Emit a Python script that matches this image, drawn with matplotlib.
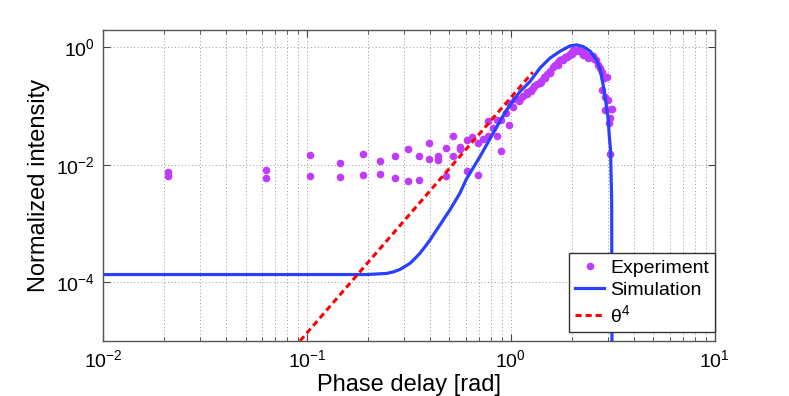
import matplotlib
matplotlib.use('Agg')
import matplotlib.pyplot as plt
from matplotlib.ticker import LogLocator, NullLocator
import numpy as np

plt.rcParams['font.family'] = ['Liberation Sans', 'DejaVu Sans']
plt.rcParams['mathtext.fontset'] = 'custom'
plt.rcParams['mathtext.rm'] = 'Liberation Sans'
plt.rcParams['mathtext.it'] = 'Liberation Sans:italic'

# measured points (phase delay [rad], normalized intensity)
exp_theta = [0.0209, 0.0209, 0.0627, 0.0627, 0.104, 0.104, 0.146, 0.146,
             0.1875, 0.1875, 0.229, 0.229, 0.271, 0.271, 0.313, 0.313,
             0.355, 0.355, 0.397, 0.397, 0.438, 0.438, 0.480, 0.480,
             0.521, 0.521, 0.564, 0.564, 0.607, 0.607, 0.648, 0.689, 0.689,
             0.726, 0.774, 0.774, 0.813, 0.857, 0.857, 0.898, 0.898, 0.942,
             0.984, 0.984, 1.023, 1.05, 1.10, 1.107, 1.15, 1.194, 1.20, 1.25,
             1.25, 1.285, 1.30, 1.35, 1.387, 1.40, 1.40, 1.45, 1.468, 1.50,
             1.553, 1.55, 1.55, 1.611, 1.65, 1.70, 1.70, 1.738, 1.75, 1.80,
             1.80, 1.85, 1.875, 1.90, 1.90, 1.95, 2.00, 2.00, 2.019, 2.05,
             2.08, 2.10, 2.138, 2.16, 2.20, 2.25, 2.261, 2.30, 2.393, 2.45,
             2.50, 2.53, 2.55, 2.60, 2.679, 2.72, 2.786, 2.80, 2.85, 2.889,
             2.889, 2.95, 3.00, 3.04, 3.055, 3.10, 3.14, 3.07]
exp_int = [0.0076, 0.0065, 0.0081, 0.0060, 0.0149, 0.0065, 0.0107, 0.0061,
           0.0151, 0.0068, 0.0116, 0.0070, 0.0139, 0.0060, 0.0187, 0.0053,
           0.0141, 0.0055, 0.0234, 0.0125, 0.0139, 0.0120, 0.0196, 0.0064,
           0.0308, 0.0141, 0.0203, 0.0185, 0.0264, 0.0078, 0.0296, 0.0068, 0.0232,
           0.0274, 0.0545, 0.0302, 0.0414, 0.0302, 0.0566, 0.0171, 0.0566, 0.0751,
           0.0469, 0.111, 0.0973, 0.13, 0.12, 0.1316, 0.15, 0.157, 0.17, 0.18,
           0.19, 0.200, 0.22, 0.24, 0.244, 0.27, 0.255, 0.31, 0.30, 0.35,
           0.38, 0.40, 0.37, 0.467, 0.50, 0.55, 0.50, 0.608, 0.60, 0.64,
           0.61, 0.68, 0.692, 0.72, 0.70, 0.77, 0.82, 0.78, 0.90, 0.86,
           0.85, 0.90, 0.90, 0.87, 0.86, 0.80, 0.739, 0.78, 0.650, 0.70,
           0.72, 0.70, 0.62, 0.60, 0.499, 0.44, 0.38, 0.187, 0.30, 0.144,
           0.0855, 0.31, 0.1265, 0.052, 0.0617, 0.089, 0.0889, 0.0152]

# simulated curve
sim_theta = [0.01, 0.0925, 0.196, 0.246, 0.264, 0.286, 0.302, 0.320, 0.338,
             0.358, 0.378, 0.401, 0.424, 0.449, 0.474, 0.502, 0.531, 0.562,
             0.607, 0.705, 0.818, 0.953, 1.107, 1.239, 1.387, 1.553, 1.738,
             1.946, 2.099, 2.261, 2.44, 2.63, 2.73, 2.835, 2.92, 3.00, 3.03,
             3.08, 3.12, 3.13, 3.14]
sim_int = [1.35e-4, 1.35e-4, 1.35e-4, 1.41e-4, 1.49e-4, 1.65e-4, 1.85e-4,
           2.09e-4, 2.52e-4, 3.1e-4, 3.96e-4, 5.2e-4, 7.0e-4, 9.4e-4, 1.26e-3,
           1.69e-3, 2.34e-3, 3.26e-3, 5.8e-3, 0.01368, 0.0343, 0.0855, 0.175,
           0.259, 0.439, 0.650, 0.848, 1.05, 1.094, 1.024, 0.865, 0.608, 0.439,
           0.228, 0.118, 0.0617, 0.0343, 0.0178, 2.5e-3, 1e-5, 1e-8]

# theta^4 reference line end points
ref_theta = [0.0925, 1.28]
ref_int = [1.0e-5, 0.375]

fig = plt.figure(figsize=(7.89, 3.96), dpi=100)
ax = fig.add_axes([0.1305, 0.139, 0.7755, 0.7865])

ax.plot(exp_theta, exp_int, 'o', color='#bf3cff', markersize=5.5,
        markeredgewidth=0, label='Experiment')
ax.plot(sim_theta, sim_int, '-', color='#2a40ff', linewidth=2.3,
        label='Simulation')
ax.plot(ref_theta, ref_int, color='red', linewidth=2.2,
        linestyle=(0, (2.0, 1.3)), label='θ$^4$')

ax.set_xscale('log')
ax.set_yscale('log')
ax.set_xlim(1e-2, 1e1)
ax.set_ylim(1e-5, 2.0)
ax.set_yticks([1e-4, 1e-2, 1e0])
ax.yaxis.set_minor_locator(NullLocator())
ax.xaxis.set_minor_locator(LogLocator(base=10, subs=np.arange(2, 10)))

ax.grid(True, which='major', linestyle=(0, (1, 2.5)), color='#999999', linewidth=0.7)
ax.xaxis.grid(True, which='minor', linestyle=(0, (1, 2.5)), color='#999999', linewidth=0.7)

ax.tick_params(which='both', direction='in', top=True, right=True,
               labelsize=14, colors='#444444', labelcolor='black', pad=6)
ax.tick_params(which='major', length=5)
ax.tick_params(which='minor', length=3)
for s in ax.spines.values():
    s.set_color('#555555')
    s.set_linewidth(1.0)

ax.set_xlabel('Phase delay [rad]', fontsize=17, labelpad=2)
ax.set_ylabel('Normalized intensity', fontsize=17, labelpad=4)

leg = ax.legend(loc='lower right', bbox_to_anchor=(1.0, 0.03), borderaxespad=0,
                fontsize=14, fancybox=False, framealpha=1, edgecolor='#333333',
                handlelength=1.5, handletextpad=0.3, borderpad=0.3,
                labelspacing=0.25, numpoints=1)
leg.get_frame().set_linewidth(1.0)

fig.savefig('out.png', dpi=100)
